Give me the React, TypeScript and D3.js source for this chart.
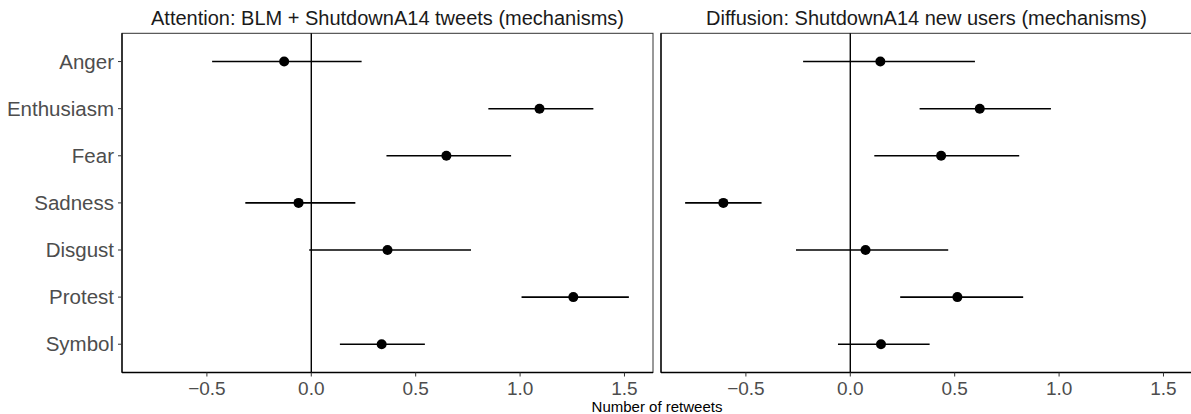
import React from 'react';
import * as d3 from 'd3';

// emotion categories, top to bottom
const categories = ['Anger', 'Enthusiasm', 'Fear', 'Sadness', 'Disgust', 'Protest', 'Symbol'];

const panelTitles = [
  'Attention: BLM + ShutdownA14 tweets (mechanisms)',
  'Diffusion: ShutdownA14 new users (mechanisms)',
];

// estimates and 95% intervals
const attentionEst = [-0.13, 1.093, 0.647, -0.061, 0.365, 1.255, 0.337];
const attentionLow = [-0.475, 0.848, 0.36, -0.316, -0.01, 1.007, 0.137];
const attentionHigh = [0.241, 1.351, 0.957, 0.211, 0.765, 1.521, 0.544];

const diffusionEst = [0.144, 0.62, 0.435, -0.608, 0.073, 0.513, 0.147];
const diffusionLow = [-0.226, 0.332, 0.115, -0.791, -0.26, 0.239, -0.059];
const diffusionHigh = [0.597, 0.961, 0.809, -0.425, 0.469, 0.828, 0.38];

const xTicks = [-0.5, 0, 0.5, 1, 1.5];
const xLabel = 'Number of retweets';

const FONT = '"Liberation Sans", Arial, Helvetica, sans-serif';

const panels = [
  { title: panelTitles[0], est: attentionEst, low: attentionLow, high: attentionHigh },
  { title: panelTitles[1], est: diffusionEst, low: diffusionLow, high: diffusionHigh },
];

export default function App() {
  const width = 1191;
  const height = 414;
  const margin = { left: 122, top: 33.3 };
  const panelW = 531;
  const panelH = 339.2;
  const gap = 8;

  // shared x scale, ggplot-style 5% expansion of the data range
  const lo = d3.min(panels, p => d3.min(p.low)) as number;
  const hi = d3.max(panels, p => d3.max(p.high)) as number;
  const pad = (hi - lo) * 0.05;
  const x = d3.scaleLinear().domain([lo - pad, hi + pad]).range([0, panelW]);
  const y = d3.scalePoint<string>().domain(categories).range([0, panelH]).padding(0.6);
  const fmt = (v: number) => d3.format('.1f')(v).replace('-', '\u2212');

  return (
    <div style={{ position: 'absolute', left: 0, top: 0 }}>
      <svg width={width} height={height} viewBox={`0 0 ${width} ${height}`} style={{ display: 'block' }}>
        <rect width={width} height={height} fill="#fff" />
        {panels.map((p, pi) => {
          const ox = margin.left + pi * (panelW + gap);
          return (
            <g key={pi} transform={`translate(${ox}, ${margin.top})`}>
              <text
                x={panelW / 2}
                y={-8.5}
                textAnchor="middle"
                fontFamily={FONT}
                fontSize={20}
                fill="#1a1a1a"
              >
                {p.title}
              </text>
              {/* panel border */}
              <rect x={0} y={0} width={panelW} height={panelH} fill="none" stroke="#333" strokeWidth={1} />
              {/* axis lines */}
              <line x1={0} x2={panelW} y1={panelH} y2={panelH} stroke="#000" strokeWidth={1.3} />
              <line x1={0} x2={0} y1={0} y2={panelH} stroke="#000" strokeWidth={1.3} />
              {/* zero reference */}
              <line x1={x(0)} x2={x(0)} y1={0} y2={panelH} stroke="#000" strokeWidth={1.4} />
              {categories.map((c, i) => (
                <g key={c}>
                  <line
                    x1={x(p.low[i])}
                    x2={x(p.high[i])}
                    y1={y(c)}
                    y2={y(c)}
                    stroke="#000"
                    strokeWidth={1.6}
                  />
                  <circle cx={x(p.est[i])} cy={y(c)} r={5} fill="#000" />
                </g>
              ))}
              {xTicks.map(t => (
                <g key={t} transform={`translate(${x(t)}, ${panelH})`}>
                  <line y1={0} y2={4} stroke="#333" strokeWidth={1} />
                  <text
                    y={22}
                    textAnchor="middle"
                    fontFamily={FONT}
                    fontSize={19}
                    fill="#4d4d4d"
                  >
                    {fmt(t)}
                  </text>
                </g>
              ))}
              {pi === 0 &&
                categories.map(c => (
                  <g key={c} transform={`translate(0, ${y(c)})`}>
                    <line x1={-4} x2={0} stroke="#333" strokeWidth={1} />
                    <text
                      x={-8}
                      dy="0.35em"
                      textAnchor="end"
                      fontFamily={FONT}
                      fontSize={20.5}
                      fill="#4d4d4d"
                    >
                      {c}
                    </text>
                  </g>
                ))}
            </g>
          );
        })}
        <text
          x={margin.left + panelW + gap / 2}
          y={411.5}
          textAnchor="middle"
          fontFamily={FONT}
          fontSize={15}
          fill="#000"
        >
          {xLabel}
        </text>
      </svg>
    </div>
  );
}
